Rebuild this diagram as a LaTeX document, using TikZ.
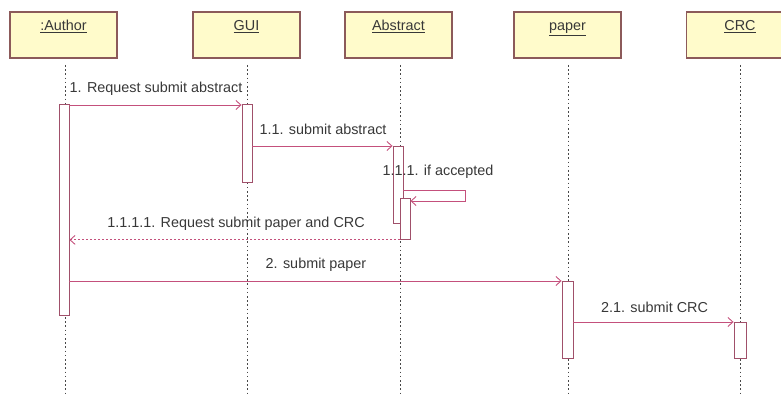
\documentclass[tikz,border=0pt]{standalone}
\usepackage{fontspec}
\setmainfont{Liberation Sans}
\usetikzlibrary{arrows.meta,calc}
\definecolor{headfill}{HTML}{FFFBCB}
\definecolor{headdraw}{HTML}{8C5A5A}
\definecolor{msgcol}{HTML}{C4507C}
\definecolor{actdraw}{HTML}{A0506A}
\definecolor{txtcol}{HTML}{383838}
\definecolor{lifecol}{HTML}{484848}
\begin{document}
\begin{tikzpicture}[x=1pt,y=-1pt,
  font=\fontsize{14.4}{16}\selectfont,
  header/.style={draw=headdraw,line width=1.2pt,fill=headfill,minimum width=107pt,minimum height=46pt,inner sep=0pt},
  headtext/.style={text=txtcol,anchor=base},
  lifeline/.style={draw=lifecol,line width=1pt,dash pattern=on 1.6pt off 2.6pt},
  act/.style={draw=actdraw,line width=0.9pt,fill=white,minimum width=10pt,inner sep=0pt,anchor=north},
  msg/.style={draw=msgcol,line width=0.9pt,-{Straight Barb[length=5pt,width=9pt]}},
  ret/.style={msg,dash pattern=on 2pt off 2pt},
  lbl/.style={text=txtcol,anchor=base,inner sep=0pt}]
\useasboundingbox (0,0) rectangle (781,395);

% object heads
\node[header] (hAuthor) at (63.5,35) {};
\node[header] (hGUI) at (246.5,35) {};
\node[header] (hAbs) at (398.5,35) {};
\node[header] (hPaper) at (567.5,35) {};
\node[header] (hCRC) at (740,35) {};
\node[headtext] (tAuthor) at (63.5,31) {\underline{:Author}};
\node[headtext] (tGUI) at (246.5,31) {\underline{GUI}};
\node[headtext] (tAbs) at (398.5,31) {\underline{Abstract}};
\node[headtext] (tPaper) at (567.5,31) {\underline{paper}};
\node[headtext] (tCRC) at (740,31) {\underline{CRC}};

% lifelines
\coordinate (eAuthor) at (65,395);
\coordinate (eGUI) at (247,395);
\coordinate (eAbs) at (400,395);
\coordinate (ePaper) at (568,395);
\coordinate (eCRC) at (740,395);
\draw[lifeline] (65,65) -- (eAuthor);
\draw[lifeline] (247,65) -- (eGUI);
\draw[lifeline] (400,65) -- (eAbs);
\draw[lifeline] (568,65) -- (ePaper);
\draw[lifeline] (740,65) -- (eCRC);

% activation bars
\node[act,minimum height=211pt] (aAuthor) at (64,104) {};
\node[act,minimum height=78pt] (aGUI) at (247,104) {};
\node[act,minimum height=77pt] (aAbs1) at (398,146) {};
\node[act,minimum height=41pt] (aAbs2) at (405,198) {};
\node[act,minimum height=77pt,minimum width=11pt] (aPaper) at (567.5,281) {};
\node[act,minimum height=36pt,minimum width=12pt] (aCRC) at (740,322) {};

% messages
\draw[msg] ($(aAuthor.north east)+(0,1)$) -- ($(aGUI.north west)+(0,1)$);
\node[lbl] (l1) at (156,93) {1. Request submit abstract};

\draw[msg] (aGUI.east |- aAbs1.north) -- (aAbs1.north west);
\node[lbl] (l11) at (323,135) {1.1. submit abstract};

\coordinate (selfA) at (465,190);
\coordinate (selfB) at (465,201);
\draw[msg] (aAbs1.east |- selfA) -- (selfA) -- (selfB) -- (aAbs2.east |- selfB);
\node[lbl] (l111) at (438,176) {1.1.1. if accepted};

\draw[ret] (aAbs2.south west) -- (aAuthor.east |- aAbs2.south);
\node[lbl] (l1111) at (236,228) {1.1.1.1. Request submit paper and CRC};

\draw[msg] (aAuthor.east |- aPaper.north) -- (aPaper.north west);
\node[lbl] (l2) at (316,269) {2. submit paper};

\draw[msg] (aPaper.east |- aCRC.north) -- (aCRC.north west);
\node[lbl] (l21) at (654.5,312) {2.1. submit CRC};
\end{tikzpicture}
\end{document}
